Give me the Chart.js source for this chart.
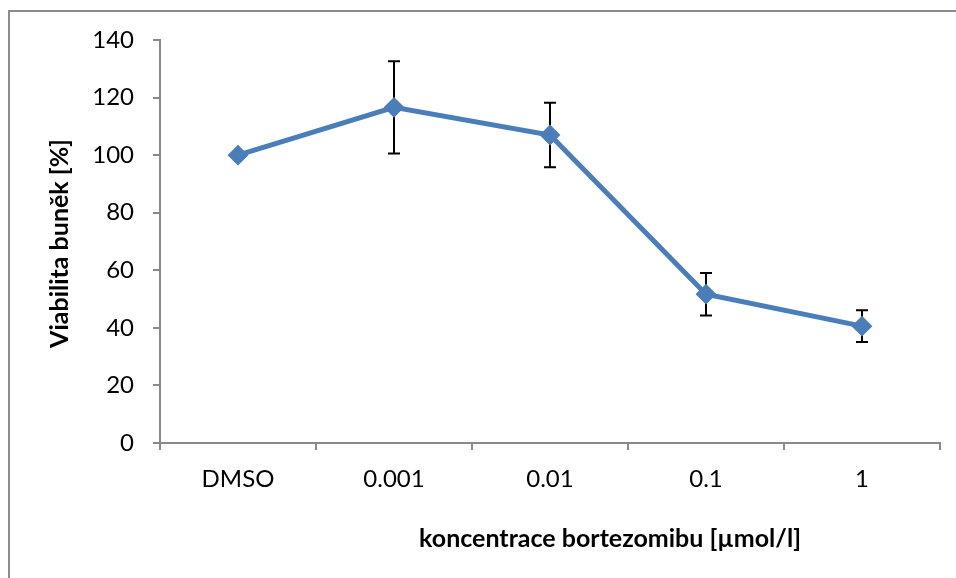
<!DOCTYPE html>
<html>
<head>
<meta charset="utf-8">
<script src="https://cdn.jsdelivr.net/npm/chart.js@4/dist/chart.umd.min.js"></script>
<style>
  html, body { margin: 0; padding: 0; background: #fff; }
  canvas { display: block; }
</style>
</head>
<body>
<canvas id="c" width="956" height="578"></canvas>
<script>
const categories = ['DMSO', '0.001', '0.01', '0.1', '1'];
const viability = [100, 116.6, 107.0, 51.7, 40.6];
const errorSD = [0, 16.0, 11.2, 7.4, 5.5];
const yTicks = [0, 20, 40, 60, 80, 100, 120, 140];
const xTitle = 'koncentrace bortezomibu [µmol/l]';
const yTitle = 'Viabilita buněk [%]';

const FONT = 'Lato, "Open Sans", sans-serif';
const AXIS = '#8a8a8a';

const frame = {
  id: 'frame',
  beforeDraw(chart) {
    const ctx = chart.ctx;
    ctx.save();
    ctx.fillStyle = '#fff';
    ctx.fillRect(0, 0, chart.width, chart.height);
    ctx.strokeStyle = '#8c8c8c';
    ctx.lineWidth = 2;
    ctx.strokeRect(9, 11, 1200, 1200);
    ctx.restore();
  }
};

const errorBars = {
  id: 'errorBars',
  beforeDatasetsDraw(chart) {
    const ctx = chart.ctx;
    const xs = chart.scales.x, ys = chart.scales.y;
    ctx.save();
    ctx.strokeStyle = '#000';
    ctx.lineWidth = 2;
    viability.forEach((v, i) => {
      const e = errorSD[i];
      if (!e) return;
      const x = xs.getPixelForValue(i);
      const yt = ys.getPixelForValue(v + e);
      const yb = ys.getPixelForValue(v - e);
      ctx.beginPath();
      ctx.moveTo(x, yt); ctx.lineTo(x, yb);
      ctx.moveTo(x - 6, yt); ctx.lineTo(x + 6, yt);
      ctx.moveTo(x - 6, yb); ctx.lineTo(x + 6, yb);
      ctx.stroke();
    });
    ctx.restore();
  }
};

const titles = {
  id: 'titles',
  afterDraw(chart) {
    const ctx = chart.ctx;
    const a = chart.chartArea;
    ctx.save();
    ctx.fillStyle = '#000';
    ctx.font = 'bold 25px ' + FONT;
    ctx.textAlign = 'center';
    ctx.textBaseline = 'middle';
    ctx.fillText(xTitle, a.left + (a.right - a.left) * 0.577, a.bottom + 96);
    ctx.translate(60, (a.top + a.bottom) / 2 + 2);
    ctx.rotate(-Math.PI / 2);
    ctx.fillText(yTitle, 0, 0);
    ctx.restore();
  }
};

new Chart(document.getElementById('c'), {
  type: 'line',
  data: {
    labels: categories,
    datasets: [{
      data: viability,
      borderColor: '#4A7EBB',
      backgroundColor: '#4A7EBB',
      borderWidth: 5,
      pointStyle: 'rectRot',
      pointRadius: 9,
      pointBorderWidth: 2,
      pointBackgroundColor: '#4A7EBB',
      pointBorderColor: '#4A7EBB',
      tension: 0
    }]
  },
  options: {
    responsive: false,
    animation: false,
    events: [],
    layout: { padding: { top: 40, right: 16, left: 0, bottom: 0 } },
    plugins: { legend: { display: false }, title: { display: false }, tooltip: { enabled: false } },
    scales: {
      x: {
        type: 'category',
        offset: true,
        afterFit(s) { s.height = 135; },
        grid: { display: true, drawOnChartArea: false, offset: true, tickLength: 7, color: AXIS, lineWidth: 2 },
        border: { display: true, color: AXIS, width: 2 },
        ticks: { color: '#000', font: { family: FONT, size: 24 }, padding: 15, maxRotation: 0 }
      },
      y: {
        min: 0, max: 140,
        afterBuildTicks(s) { s.ticks = yTicks.map(v => ({ value: v })); },
        afterFit(s) { s.width = 160; },
        grid: { display: true, drawOnChartArea: false, tickLength: 7, color: AXIS, lineWidth: 2 },
        border: { display: true, color: AXIS, width: 2 },
        ticks: { color: '#000', font: { family: FONT, size: 24 }, padding: 19 }
      }
    }
  },
  plugins: [frame, errorBars, titles]
});
</script>
</body>
</html>
